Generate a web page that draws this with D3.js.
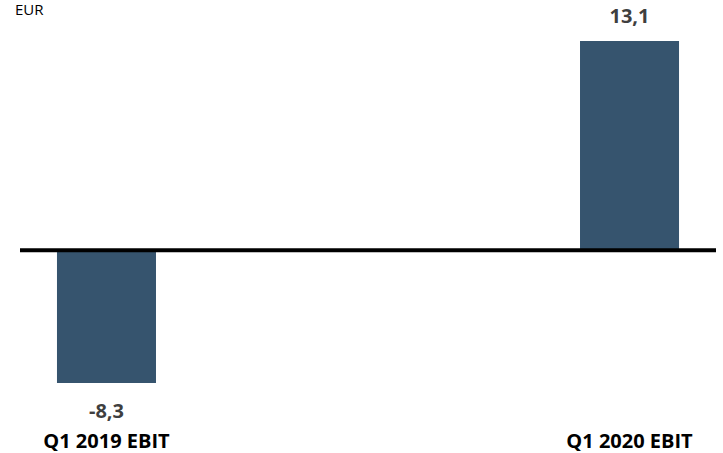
<!DOCTYPE html>
<html>
<head>
<meta charset="utf-8">
<script src="https://cdn.jsdelivr.net/npm/d3@7"></script>
<style>
  html, body { margin: 0; padding: 0; background: #fff; }
  svg { display: block; }
</style>
</head>
<body>
<svg id="chart" width="723" height="453"></svg>
<script>
// EBIT comparison, values in EUR
const categories = ["Q1 2019 EBIT", "Q1 2020 EBIT"];
const values = [-8.3, 13.1];
const valueLabels = ["-8,3", "13,1"];
const unitLabel = "EUR";

const svg = d3.select("#chart");
const font = "'Open Sans', 'Noto Sans', sans-serif";

const x = d3.scaleBand()
  .domain(categories)
  .range([20, 716])
  .paddingInner(0.8107)
  .paddingOuter(0.0707);

const y = d3.scaleLinear()
  .domain([d3.min(values), d3.max(values)])
  .range([383, 41]);

const data = categories.map((c, i) => ({ cat: c, v: values[i], label: valueLabels[i] }));

// bars
svg.selectAll("rect.bar")
  .data(data)
  .join("rect")
  .attr("class", "bar")
  .attr("x", d => x(d.cat))
  .attr("width", x.bandwidth())
  .attr("y", d => Math.min(y(0), y(d.v)))
  .attr("height", d => Math.abs(y(d.v) - y(0)))
  .attr("fill", "#36546e");

// zero baseline
svg.append("line")
  .attr("x1", x.range()[0])
  .attr("x2", x.range()[1])
  .attr("y1", y(0))
  .attr("y2", y(0))
  .attr("stroke", "#000")
  .attr("stroke-width", 4);

// value labels
svg.selectAll("text.val")
  .data(data)
  .join("text")
  .attr("class", "val")
  .attr("x", d => x(d.cat) + x.bandwidth() / 2)
  .attr("y", d => d.v >= 0 ? y(d.v) - 18 : y(d.v) + 35)
  .attr("text-anchor", "middle")
  .attr("font-family", font)
  .attr("font-weight", "bold")
  .attr("font-size", 20)
  .attr("fill", "#3f3f3f")
  .text(d => d.label);

// category labels
svg.selectAll("text.cat")
  .data(data)
  .join("text")
  .attr("class", "cat")
  .attr("x", d => x(d.cat) + x.bandwidth() / 2)
  .attr("y", 448)
  .attr("text-anchor", "middle")
  .attr("font-family", font)
  .attr("font-weight", "bold")
  .attr("font-size", 20)
  .attr("fill", "#000")
  .text(d => d.cat);

// unit label
svg.append("text")
  .attr("x", 15)
  .attr("y", 15)
  .attr("font-family", font)
  .attr("font-size", 15)
  .attr("fill", "#000")
  .text(unitLabel);
</script>
</body>
</html>
